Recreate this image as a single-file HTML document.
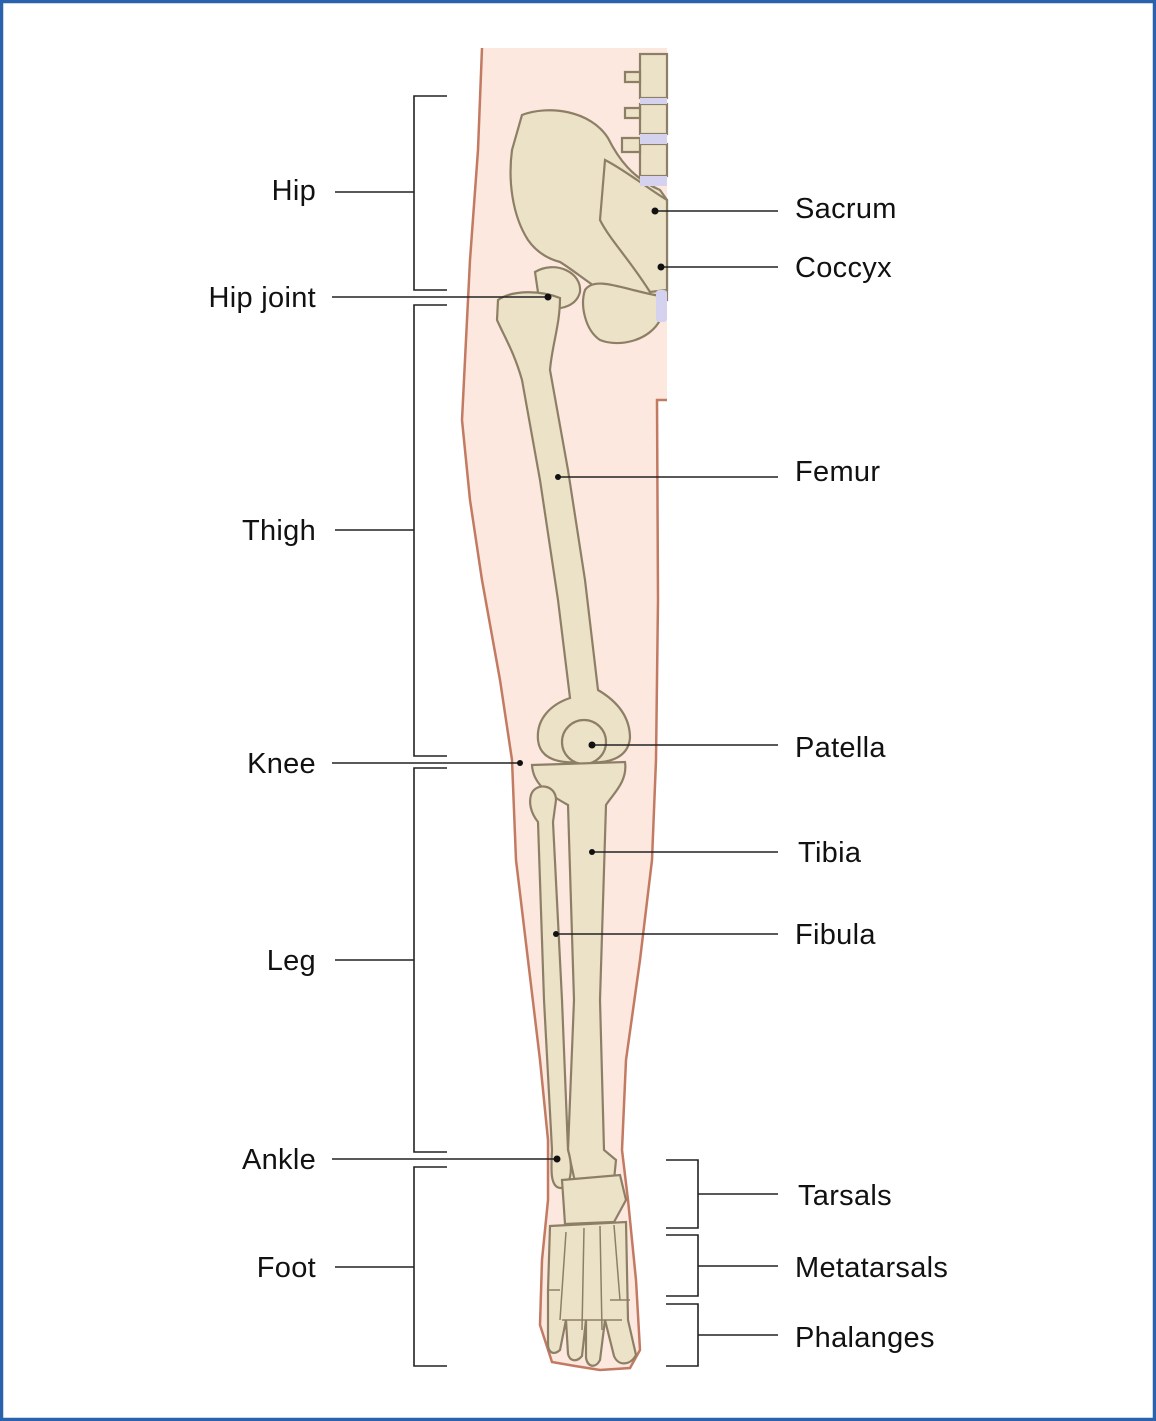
<!DOCTYPE html>
<html><head><meta charset="utf-8"><style>
html,body{margin:0;padding:0;background:#fff}
svg{display:block}
text{font-family:"Liberation Sans",sans-serif;font-size:29px;fill:#111;letter-spacing:0.3px}
</style></head><body>
<svg width="1156" height="1421" viewBox="0 0 1156 1421" xmlns="http://www.w3.org/2000/svg">
<rect x="1.5" y="1.5" width="1153" height="1418" fill="#fff" stroke="#2a62ad" stroke-width="3.5"/>
<path d="M482,48 L478,150 L470,260 L462,420 L470,500 L482,580 L500,680 L512,760 L516,860 L528,960 L540,1060 L548,1140 L548,1200 L542,1260 L540,1325 L552,1362 L575,1366 L600,1370 L630,1368 L640,1350 L636,1280 L628,1200 L622,1150 L626,1060 L640,960 L652,860 L656,760 L658,600 L657,400 L667,400 L667,48 Z" fill="#fce8de"/>
<path d="M482,48 L478,150 L470,260 L462,420 L470,500 L482,580 L500,680 L512,760 L516,860 L528,960 L540,1060 L548,1140 L548,1200 L542,1260 L540,1325 L552,1362 L575,1366 L600,1370 L630,1368 L640,1350 L636,1280 L628,1200 L622,1150 L626,1060 L640,960 L652,860 L656,760 L658,600 L657,400 L667,400" fill="none" stroke="#c27a62" stroke-width="2.5"/>
<g fill="#ece2c8" stroke="#8c7f66" stroke-width="2.2">
<rect x="640" y="54" width="27" height="44"/>
<rect x="640" y="104" width="27" height="30"/>
<rect x="640" y="144" width="27" height="32"/>
<path d="M625,72 h15 v10 h-15 z M625,108 h15 v10 h-15 z M622,138 h18 v14 h-18z"/>
<path d="M522,115 C548,105 590,110 608,138 C618,158 632,178 660,190 L667,200 L667,300 L655,298 C635,300 615,296 600,290 C585,280 570,268 560,262 C545,258 535,250 528,240 C512,215 508,180 512,150 Z"/>
<path d="M605,160 C625,170 650,190 667,200 L667,290 L650,292 C630,260 610,240 600,220 Z"/>
<path d="M585,290 C595,275 625,290 660,296 L660,320 C650,340 620,348 600,340 C585,330 580,305 585,290 Z"/>
<path d="M535,272 C555,260 582,272 580,292 C576,308 555,312 540,306 Z"/>
<path d="M498,300 C512,290 540,290 560,298 C560,325 552,345 550,370 L568,470 L585,580 L598,690 C615,700 630,715 630,738 C628,760 605,764 584,762 C560,764 540,760 538,740 C536,718 552,704 570,698 L558,600 L540,480 L522,380 C514,352 505,338 497,320 Z"/>
<circle cx="584" cy="742" r="22"/>
<path d="M532,765 L625,762 C628,782 612,795 606,805 L600,1000 L604,1150 L616,1160 L614,1180 L575,1182 L568,1150 L574,1000 L568,805 C550,795 533,785 532,765 Z"/>
<path d="M531,795 C535,782 556,784 556,800 L553,822 L562,1000 L568,1150 C574,1170 570,1188 561,1188 C550,1188 551,1170 552,1150 L544,1000 L538,822 C530,812 529,802 531,795 Z"/>
<path d="M562,1180 L620,1175 L626,1200 L614,1222 L565,1224 Z"/>
<path d="M550,1226 L626,1222 L628,1320 L636,1355 C630,1366 618,1366 614,1356 L605,1320 L600,1360 C596,1368 588,1368 586,1358 L586,1320 L582,1356 C577,1362 570,1362 568,1354 L566,1320 L560,1350 C553,1356 548,1352 548,1344 L548,1290 Z"/>
</g>
<g stroke="#8c7f66" stroke-width="1.5" fill="none">
<path d="M566,1232 L560,1320 M584,1228 L582,1330 M600,1226 L602,1330 M614,1225 L620,1300 M610,1300 h20 M548,1290 h12 M562,1320 h60"/>
</g>
<g fill="#d4d2ee"><rect x="640" y="98" width="27" height="6"/><rect x="640" y="134" width="27" height="10"/><rect x="640" y="176" width="27" height="10"/><rect x="656" y="290" width="11" height="32" rx="3"/></g>
<g stroke="#222" stroke-width="1.6" fill="none">
<path d="M447,96 H414 V290 H447 M335,192 H414"/>
<path d="M447,305 H414 V756 H447 M335,530 H414"/>
<path d="M447,768 H414 V1152 H447 M335,960 H414"/>
<path d="M447,1167 H414 V1366 H447 M335,1267 H414"/>
<path d="M332,297 H548 M332,763 H520 M332,1159 H557"/>
<path d="M655,211 H778 M661,267 H778 M558,477 H778 M592,745 H778 M592,852 H778 M556,934 H778"/>
<path d="M666,1160 H698 V1228 H666 M698,1194 H778"/>
<path d="M666,1235 H698 V1296 H666 M698,1266 H778"/>
<path d="M666,1304 H698 V1366 H666 M698,1335 H778"/>
</g>
<g fill="#111"><circle cx="548" cy="297" r="3.5"/><circle cx="520" cy="763" r="3"/><circle cx="557" cy="1159" r="3.5"/><circle cx="655" cy="211" r="3.5"/><circle cx="661" cy="267" r="3.5"/><circle cx="558" cy="477" r="3"/><circle cx="592" cy="745" r="3.5"/><circle cx="592" cy="852" r="3"/><circle cx="556" cy="934" r="3"/></g>
<g text-anchor="end">
<text x="316" y="200">Hip</text>
<text x="316" y="307">Hip joint</text>
<text x="316" y="540">Thigh</text>
<text x="316" y="773">Knee</text>
<text x="316" y="970">Leg</text>
<text x="316" y="1169">Ankle</text>
<text x="316" y="1277">Foot</text>
</g>
<text x="795" y="218">Sacrum</text>
<text x="795" y="277">Coccyx</text>
<text x="795" y="481">Femur</text>
<text x="795" y="757">Patella</text>
<text x="798" y="862">Tibia</text>
<text x="795" y="944">Fibula</text>
<text x="798" y="1205">Tarsals</text>
<text x="795" y="1277">Metatarsals</text>
<text x="795" y="1347">Phalanges</text>
</svg>
</body></html>
